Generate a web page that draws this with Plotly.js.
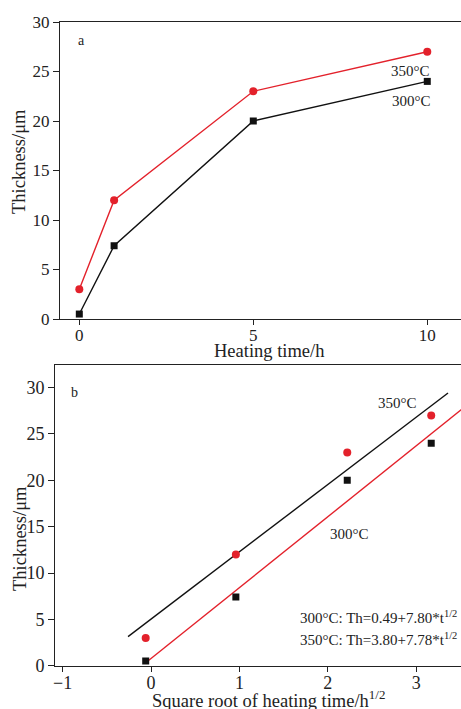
<!DOCTYPE html>
<html>
<head>
<meta charset="utf-8">
<script src="https://cdn.plot.ly/plotly-3.0.1.min.js"></script>
<style>
html,body{margin:0;padding:0;background:#fff;overflow:hidden;}
#wrap{width:461px;height:709px;overflow:hidden;}
#plot{width:500px;height:709px;}
</style>
</head>
<body>
<div id="wrap"><div id="plot"></div></div>
<script>
// Panel a: thickness vs heating time
const hoursA = [0, 1, 5, 10];
const thick300 = [0.5, 7.4, 20, 24];
const thick350 = [3, 12, 23, 27];
// Panel b: thickness vs square root of heating time (positions as drawn)
const sqrtB = [-0.06, 0.96, 2.22, 3.17];
const fit300X = [-0.06, 3.6];
const fit300Y = [0.32, 28.3];
const fit350X = [-0.26, 3.36];
const fit350Y = [3.13, 29.42];
const ticksA_x = [0, 5, 10];
const ticksY = [0, 5, 10, 15, 20, 25, 30];
const ticksB_x = [-1, 0, 1, 2, 3];

const W = 500, H = 709;
const RED = '#e3212b', BLK = '#111111';
const FONT = 'Liberation Serif, Times New Roman, serif';
const px = v => v / W;
const py = v => 1 - v / H;

const traces = [
  {x: hoursA, y: thick300, xaxis: 'x', yaxis: 'y', mode: 'lines+markers',
   line: {color: BLK, width: 1.4}, marker: {symbol: 'square', size: 7, color: BLK}},
  {x: hoursA, y: thick350, xaxis: 'x', yaxis: 'y', mode: 'lines+markers',
   line: {color: RED, width: 1.4}, marker: {symbol: 'circle', size: 8, color: RED}},
  {x: fit350X, y: fit350Y, xaxis: 'x2', yaxis: 'y2', mode: 'lines',
   line: {color: BLK, width: 1.4}},
  {x: fit300X, y: fit300Y, xaxis: 'x2', yaxis: 'y2', mode: 'lines',
   line: {color: RED, width: 1.4}},
  {x: sqrtB, y: thick300, xaxis: 'x2', yaxis: 'y2', mode: 'markers',
   marker: {symbol: 'square', size: 7, color: BLK}},
  {x: sqrtB, y: thick350, xaxis: 'x2', yaxis: 'y2', mode: 'markers',
   marker: {symbol: 'circle', size: 8, color: RED}}
];

const axBase = {
  showline: true, mirror: true, linecolor: '#222', linewidth: 1,
  ticks: 'outside', ticklen: 5, tickwidth: 1, tickcolor: '#222',
  showgrid: false, zeroline: false, automargin: false,
  tickfont: {family: FONT, size: 17, color: '#222'}
};

const ann = (text, x, y, xref, yref, opts) => Object.assign({
  text, x, y, xref, yref, showarrow: false,
  font: {family: FONT, size: 15, color: '#222'}
}, opts || {});

const layout = {
  width: W, height: H, showlegend: false,
  paper_bgcolor: '#fff', plot_bgcolor: '#fff',
  margin: {l: 0, r: 0, t: 0, b: 0},
  xaxis: Object.assign({}, axBase, {domain: [px(60), 1], range: [-0.555, 12.09],
    anchor: 'y', tickvals: ticksA_x, ticklabelstandoff: -4}),
  yaxis: Object.assign({}, axBase, {domain: [py(319), py(22)], range: [0, 30],
    anchor: 'x', tickvals: ticksY, ticklen: 6}),
  xaxis2: Object.assign({}, axBase, {domain: [px(55), 1], range: [-1.086, 3.948],
    anchor: 'y2', tickvals: ticksB_x, ticklabelstandoff: -4,
    tickfont: {family: FONT, size: 18, color: '#222'}}),
  yaxis2: Object.assign({}, axBase, {domain: [py(665.7), py(364.7)], range: [0, 32.47],
    anchor: 'x2', tickvals: ticksY, ticklen: 6, tickfont: {family: FONT, size: 18, color: '#222'}}),
  annotations: [
    ann('a', 0.07, 28.15, 'x', 'y', {font: {family: FONT, size: 14, color: '#222'}}),
    ann('350°C', 9.53, 25.0, 'x', 'y'),
    ann('300°C', 9.56, 22.0, 'x', 'y'),
    ann('b', -0.87, 29.45, 'x2', 'y2', {font: {family: FONT, size: 14, color: '#222'}}),
    ann('350°C', 2.79, 28.34, 'x2', 'y2'),
    ann('300°C', 2.24, 14.2, 'x2', 'y2'),
    ann('300°C: Th=0.49+7.80*t<sup>1/2</sup>', 1.663, 5.25, 'x2', 'y2', {xanchor: 'left', yanchor: 'middle'}),
    ann('350°C: Th=3.80+7.78*t<sup>1/2</sup>', 1.663, 2.88, 'x2', 'y2', {xanchor: 'left', yanchor: 'middle'}),
    ann('Heating time/h', px(268.5), py(351), 'paper', 'paper',
      {font: {family: FONT, size: 18.5, color: '#222'}, xanchor: 'center', yanchor: 'middle'}),
    ann('Square root of heating time/h<sup>1/2</sup>', px(150), py(713), 'paper', 'paper',
      {font: {family: FONT, size: 18.5, color: '#222'}, xanchor: 'left', yanchor: 'bottom'}),
    ann('Thickness/μm', px(19.5), py(161.5), 'paper', 'paper',
      {font: {family: FONT, size: 18.5, color: '#222'}, textangle: -90, xanchor: 'center', yanchor: 'middle'}),
    ann('Thickness/μm', px(19.5), py(538.5), 'paper', 'paper',
      {font: {family: FONT, size: 18.5, color: '#222'}, textangle: -90, xanchor: 'center', yanchor: 'middle'})
  ]
};

Plotly.newPlot('plot', traces, layout, {staticPlot: true, displayModeBar: false});
</script>
</body>
</html>
